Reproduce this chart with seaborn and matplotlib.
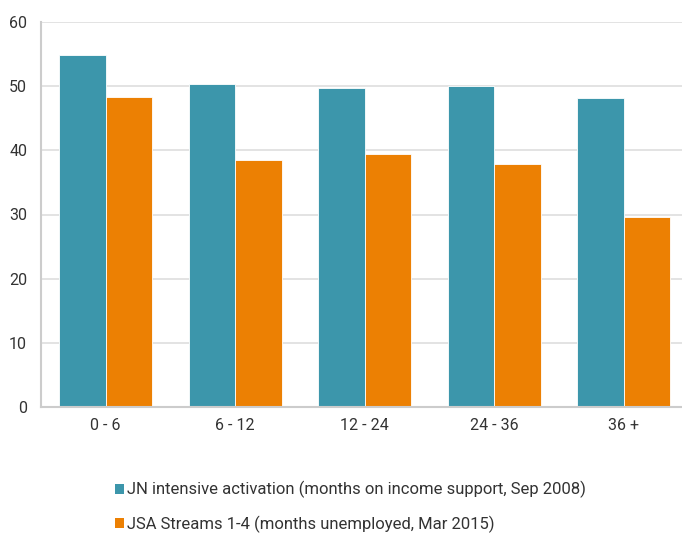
import matplotlib
matplotlib.use("Agg")
import matplotlib.pyplot as plt
import seaborn as sns
import pandas as pd
from matplotlib.patches import Patch

categories = ["0 - 6", "6 - 12", "12 - 24", "24 - 36", "36 +"]
jn_values = [54.9, 50.3, 49.7, 50.0, 48.2]
jsa_values = [48.3, 38.5, 39.4, 37.9, 29.6]
series_names = [
    "JN intensive activation (months on income support, Sep 2008)",
    "JSA Streams 1-4 (months unemployed, Mar 2015)",
]
colors = ["#3c96ab", "#ec8003"]

df = pd.DataFrame({
    "group": categories * 2,
    "value": jn_values + jsa_values,
    "series": [series_names[0]] * len(categories) + [series_names[1]] * len(categories),
})

sns.set_theme(style="white")
plt.rcParams["font.family"] = ["Roboto", "DejaVu Sans"]

fig = plt.figure(figsize=(6.82, 5.36), dpi=100)
ax = fig.add_axes([41 / 682, 129 / 536, 641 / 682, 385 / 536])

sns.barplot(data=df, x="group", y="value", hue="series", palette=colors,
            width=0.72, dodge=True, ax=ax, legend=False,
            edgecolor="white", linewidth=0.6, saturation=1)

ax.set_xlim(-0.5, 4.45)
ax.set_ylim(0, 60)
ax.set_yticks(range(0, 61, 10))
ax.yaxis.grid(True, color="#dedede", linewidth=1.2)
ax.set_axisbelow(True)
ax.set_xlabel("")
ax.set_ylabel("")
for side in ["top", "right"]:
    ax.spines[side].set_visible(False)
for side in ["left", "bottom"]:
    ax.spines[side].set_color("#cccccc")
    ax.spines[side].set_linewidth(1.5)
ax.tick_params(axis="both", length=0, labelsize=11.5, colors="#333333")
ax.tick_params(axis="y", pad=10)
ax.tick_params(axis="x", pad=8)

handles = [Patch(facecolor=c, edgecolor="none") for c in colors]
fig.legend(handles, series_names, loc="upper left",
           bbox_to_anchor=(100 / 682, 1 - 466 / 536), frameon=False,
           fontsize=12, handlelength=0.55, handleheight=0.55,
           handletextpad=0.15, labelspacing=1.05, labelcolor="#333333")

fig.savefig("out.png", dpi=100)
